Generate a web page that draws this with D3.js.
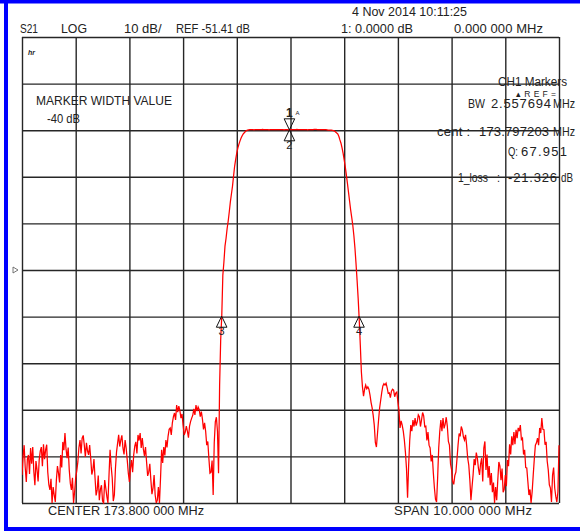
<!DOCTYPE html>
<html>
<head>
<meta charset="utf-8">
<script src="https://cdn.jsdelivr.net/npm/d3@7/dist/d3.min.js"></script>
<style>
  html, body { margin: 0; padding: 0; background: #fff; }
  svg { display: block; }
  text { font-family: "Liberation Sans", Arial, sans-serif; fill: #222; }
</style>
</head>
<body>
<svg id="chart" width="580" height="531"></svg>
<script>
// ---------------- DATA ----------------
// sweep frequencies (MHz)
const sweepMHz = [
168.80,168.82,168.84,168.86,168.88,168.90,168.92,168.94,168.96,168.98,
169.00,169.02,169.04,169.06,169.08,169.10,169.12,169.14,169.16,169.18,
169.20,169.22,169.24,169.26,169.28,169.30,169.32,169.34,169.36,169.38,
169.40,169.42,169.44,169.46,169.48,169.50,169.52,169.54,169.56,169.58,
169.60,169.62,169.64,169.66,169.68,169.70,169.72,169.74,169.76,169.78,
169.80,169.82,169.84,169.86,169.88,169.90,169.92,169.94,169.96,169.98,
170.00,170.02,170.04,170.06,170.08,170.10,170.12,170.14,170.16,170.18,
170.20,170.22,170.24,170.26,170.28,170.30,170.32,170.34,170.36,170.38,
170.40,170.42,170.44,170.46,170.48,170.50,170.52,170.54,170.56,170.58,
170.60,170.62,170.64,170.66,170.68,170.70,170.72,170.74,170.76,170.78,
170.80,170.82,170.84,170.86,170.88,170.90,170.92,170.94,170.96,170.98,
171.00,171.02,171.04,171.06,171.08,171.10,171.12,171.14,171.16,171.18,
171.20,171.22,171.24,171.26,171.28,171.30,171.32,171.34,171.36,171.38,
171.40,171.42,171.44,171.46,171.48,171.50,171.52,171.54,171.56,171.58,
171.60,171.62,171.64,171.66,171.68,171.70,171.72,171.74,171.76,171.78,
171.80,171.82,171.84,171.86,171.88,171.90,171.92,171.94,171.96,171.98,
172.00,172.02,172.04,172.06,172.08,172.10,172.12,172.14,172.16,172.18,
172.20,172.22,172.24,172.26,172.28,172.30,172.32,172.34,172.36,172.38,
172.40,172.42,172.44,172.46,172.48,172.50,172.52,172.54,172.56,172.58,
172.60,172.62,172.64,172.66,172.68,172.70,172.72,172.74,172.76,172.78,
172.80,172.82,172.84,172.86,172.88,172.90,172.92,172.94,172.96,172.98,
173.00,173.02,173.04,173.06,173.08,173.10,173.12,173.14,173.16,173.18,
173.20,173.22,173.24,173.26,173.28,173.30,173.32,173.34,173.36,173.38,
173.40,173.42,173.44,173.46,173.48,173.50,173.52,173.54,173.56,173.58,
173.60,173.62,173.64,173.66,173.68,173.70,173.72,173.74,173.76,173.78,
173.80,173.82,173.84,173.86,173.88,173.90,173.92,173.94,173.96,173.98,
174.00,174.02,174.04,174.06,174.08,174.10,174.12,174.14,174.16,174.18,
174.20,174.22,174.24,174.26,174.28,174.30,174.32,174.34,174.36,174.38,
174.40,174.42,174.44,174.46,174.48,174.50,174.52,174.54,174.56,174.58,
174.60,174.62,174.64,174.66,174.68,174.70,174.72,174.74,174.76,174.78,
174.80,174.82,174.84,174.86,174.88,174.90,174.92,174.94,174.96,174.98,
175.00,175.02,175.04,175.06,175.08,175.10,175.12,175.14,175.16,175.18,
175.20,175.22,175.24,175.26,175.28,175.30,175.32,175.34,175.36,175.38,
175.40,175.42,175.44,175.46,175.48,175.50,175.52,175.54,175.56,175.58,
175.60,175.62,175.64,175.66,175.68,175.70,175.72,175.74,175.76,175.78,
175.80,175.82,175.84,175.86,175.88,175.90,175.92,175.94,175.96,175.98,
176.00,176.02,176.04,176.06,176.08,176.10,176.12,176.14,176.16,176.18,
176.20,176.22,176.24,176.26,176.28,176.30,176.32,176.34,176.36,176.38,
176.40,176.42,176.44,176.46,176.48,176.50,176.52,176.54,176.56,176.58,
176.60,176.62,176.64,176.66,176.68,176.70,176.72,176.74,176.76,176.78,
176.80,176.82,176.84,176.86,176.88,176.90,176.92,176.94,176.96,176.98,
177.00,177.02,177.04,177.06,177.08,177.10,177.12,177.14,177.16,177.18,
177.20,177.22,177.24,177.26,177.28,177.30,177.32,177.34,177.36,177.38,
177.40,177.42,177.44,177.46,177.48,177.50,177.52,177.54,177.56,177.58,
177.60,177.62,177.64,177.66,177.68,177.70,177.72,177.74,177.76,177.78,
177.80,177.82,177.84,177.86,177.88,177.90,177.92,177.94,177.96,177.98,
178.00,178.02,178.04,178.06,178.08,178.10,178.12,178.14,178.16,178.18,
178.20,178.22,178.24,178.26,178.28,178.30,178.32,178.34,178.36,178.38,
178.40,178.42,178.44,178.46,178.48,178.50,178.52,178.54,178.56,178.58,
178.60,178.62,178.64,178.66,178.68,178.70,178.72,178.74,178.76,178.78,
178.80
];
// S21 magnitude (dB)
const s21dB = [
-95.4,-91.5,-89.0,-93.8,-96.9,-92.0,-91.1,-95.2,-89.6,-93.0,
-89.4,-94.6,-97.6,-92.4,-94.3,-96.8,-92.2,-90.3,-89.4,-93.5,
-88.8,-92.0,-90.0,-88.9,-94.8,-97.5,-98.6,-96.2,-101.4,-98.0,
-99.7,-101.2,-96.5,-93.5,-95.0,-97.0,-91.1,-93.8,-88.3,-90.1,
-86.4,-89.8,-91.8,-89.5,-94.3,-97.2,-98.6,-96.0,-101.4,-99.0,
-96.0,-94.5,-92.6,-89.5,-87.9,-90.8,-87.5,-86.9,-89.0,-91.5,
-88.5,-90.2,-91.1,-89.0,-91.8,-95.3,-94.3,-92.0,-96.0,-99.8,
-98.6,-95.5,-100.8,-98.5,-97.6,-101.0,-101.4,-96.5,-98.2,-100.0,
-101.4,-95.5,-90.0,-93.5,-96.0,-101.0,-99.7,-94.0,-90.5,-88.6,
-86.8,-89.3,-87.9,-86.9,-89.6,-91.0,-87.9,-89.6,-92.2,-95.0,
-96.9,-94.0,-92.2,-94.8,-91.1,-89.2,-88.3,-90.8,-86.8,-88.0,
-86.4,-89.6,-87.5,-89.8,-91.3,-89.4,-92.6,-95.6,-94.8,-93.0,
-96.5,-99.5,-98.2,-95.4,-99.7,-101.4,-100.8,-98.0,-101.4,-96.0,
-90.0,-92.8,-89.4,-91.2,-87.9,-89.5,-87.1,-85.6,-85.3,-86.8,
-84.2,-82.9,-82.1,-83.6,-80.4,-81.9,-80.6,-81.6,-83.2,-82.3,
-84.7,-86.8,-86.2,-84.9,-86.0,-87.4,-84.9,-83.9,-83.2,-82.6,
-81.2,-82.5,-80.4,-81.7,-80.8,-81.4,-82.9,-81.8,-83.4,-85.6,
-84.2,-86.0,-89.0,-88.2,-91.8,-95.0,-94.8,-92.3,-99.7,-88.5,
-84.0,-83.0,-86.0,-95.0,-76.1,-66.4,-61.3,-52.5,-49.7,-46.3,
-44.6,-42.5,-40.9,-38.9,-36.8,-35.1,-33.4,-31.2,-29.1,-27.6,
-26.3,-25.2,-24.4,-23.7,-23.1,-22.6,-22.2,-21.95,-21.7,-21.5,
-21.4,-21.35,-21.3,-21.3,-21.3,-21.3,-21.35,-21.3,-21.3,-21.3,
-21.3,-21.3,-21.3,-21.3,-21.25,-21.3,-21.3,-21.3,-21.3,-21.3,
-21.35,-21.3,-21.3,-21.3,-21.3,-21.3,-21.3,-21.3,-21.3,-21.3,
-21.3,-21.3,-21.3,-21.3,-21.35,-21.3,-21.3,-21.3,-21.33,-21.3,
-21.3,-21.3,-21.3,-21.3,-21.3,-21.3,-21.25,-21.3,-21.3,-21.3,
-21.3,-21.3,-21.3,-21.3,-21.3,-21.3,-21.35,-21.3,-21.3,-21.3,
-21.3,-21.3,-21.25,-21.25,-21.25,-21.3,-21.3,-21.3,-21.3,-21.3,
-21.3,-21.3,-21.3,-21.3,-21.35,-21.4,-21.4,-21.4,-21.4,-21.45,
-21.5,-21.6,-21.8,-22.0,-22.2,-22.7,-23.5,-24.2,-25.2,-26.4,
-27.8,-29.3,-31.0,-32.8,-34.7,-36.6,-38.5,-40.1,-41.8,-44.0,
-46.7,-50.0,-53.6,-57.5,-62.1,-67.5,-73.3,-76.5,-78.5,-77.0,
-76.1,-76.9,-76.5,-77.0,-78.2,-79.8,-81.0,-82.6,-84.7,-88.4,
-89.4,-86.5,-83.6,-81.0,-79.3,-77.6,-76.3,-75.8,-76.1,-75.7,
-76.7,-77.9,-77.8,-78.8,-77.4,-77.0,-77.2,-78.6,-77.8,-77.6,
-79.7,-81.5,-85.3,-83.8,-84.7,-86.0,-87.9,-90.5,-94.0,-100.3,
-93.3,-88.0,-84.7,-86.0,-83.6,-85.0,-83.2,-84.8,-84.0,-82.5,
-82.9,-85.0,-83.6,-82.0,-82.7,-85.0,-84.9,-88.0,-86.2,-89.0,
-89.6,-92.5,-91.1,-95.0,-98.2,-100.6,-101.2,-96.0,-89.6,-86.0,
-83.6,-86.0,-83.2,-85.4,-84.5,-83.0,-84.9,-88.2,-89.0,-93.0,
-94.3,-96.8,-97.4,-95.5,-94.8,-92.0,-89.0,-86.5,-87.1,-85.0,
-85.7,-87.2,-87.9,-86.8,-89.0,-91.8,-93.3,-96.5,-100.8,-98.0,
-95.4,-92.0,-93.3,-90.6,-91.8,-94.0,-95.4,-93.0,-91.8,-96.8,
-89.6,-88.2,-94.3,-91.0,-96.0,-93.5,-97.6,-95.0,-99.1,-97.0,
-101.4,-98.0,-100.8,-96.5,-92.6,-93.5,-96.5,-94.0,-99.1,-98.5,
-95.4,-97.8,-92.2,-93.5,-88.8,-91.0,-87.1,-89.0,-86.2,-88.8,
-85.7,-87.5,-85.3,-86.0,-84.7,-87.8,-87.5,-91.0,-90.0,-93.8,
-93.9,-96.8,-99.7,-98.5,-101.4,-99.0,-95.4,-92.0,-89.0,-88.5,
-87.5,-89.0,-85.3,-86.4,-83.2,-85.6,-85.7,-88.9,-88.3,-92.4,
-94.3,-97.5,-98.2,-101.2,-95.4,-93.8,-98.2,-100.0,-101.2,-99.0,
-89.0
];
// grid (1 MHz / div, 10 dB / div, REF -51.41 dB at centre)
const gridMHz = [168.8,169.8,170.8,171.8,172.8,173.8,174.8,175.8,176.8,177.8,178.8];
const gridDB  = [-1.41,-11.41,-21.41,-31.41,-41.41,-51.41,-61.41,-71.41,-81.41,-91.41,-101.41];
const refDB = -51.41;
// markers
const markerIds  = ["1", "2", "3", "4"];
const markerMHz  = [173.78, 173.78, 172.518, 175.076];
const markerDB   = [-21.33, -21.33, -61.33, -61.33];
const markerDir  = ["down", "up", "up", "up"];
// annotation texts
const headerTexts = ["S21", "LOG", "10 dB/", "REF -51.41 dB", "1: 0.0000  dB", "0.000  000  MHz", "4 Nov 2014  10:11:25"];
const markerWidthTexts = ["MARKER WIDTH VALUE", "-40 dB"];
const statTexts = ["CH1 Markers", "\u25B4REF=", "BW", "2.557694", "MHz", "cent  :", "173.797203", "MHz", "Q:", "67.951", "1_loss", ":", "-21.326", "dB"];
const footerTexts = ["CENTER 173.800  000  MHz", "SPAN  10.000  000  MHz"];

// ---------------- LAYOUT ----------------
const svg = d3.select("#chart");
const plot = { left: 22, right: 559, top: 37, bottom: 503 };
const x = d3.scaleLinear().domain([168.8, 178.8]).range([plot.left, plot.right]);
const y = d3.scaleLinear().domain([-101.41, -1.41]).range([plot.bottom, plot.top]);

svg.append("rect").attr("width", 580).attr("height", 531).attr("fill", "#fff");

// grid via axes
const gx = svg.append("g").attr("transform", `translate(0,${plot.bottom})`)
  .call(d3.axisBottom(x).tickValues(gridMHz).tickSize(-(plot.bottom - plot.top)).tickFormat(""));
const gy = svg.append("g").attr("transform", `translate(${plot.left},0)`)
  .call(d3.axisLeft(y).tickValues(gridDB).tickSize(-(plot.right - plot.left)).tickFormat(""));
[gx, gy].forEach(g => {
  g.select(".domain").remove();
  g.selectAll(".tick line").attr("stroke", "#262626").attr("stroke-width", 1.4);
});

// reference level indicator on the left
const ry = y(refDB);
svg.append("path")
  .attr("d", `M13,${ry - 3} L18,${ry} L13,${ry + 3} Z`)
  .attr("fill", "none").attr("stroke", "#555").attr("stroke-width", 0.8);

// trace
svg.append("defs").append("clipPath").attr("id", "clip")
  .append("rect").attr("x", plot.left).attr("y", plot.top - 2)
  .attr("width", plot.right - plot.left + 1).attr("height", plot.bottom - plot.top + 3);
const pts = sweepMHz.map((f, i) => [f, s21dB[i]]);
svg.append("path")
  .datum(pts)
  .attr("clip-path", "url(#clip)")
  .attr("fill", "none")
  .attr("stroke", "#ff0000")
  .attr("stroke-width", 1.25)
  .attr("stroke-linejoin", "miter")
  .attr("d", d3.line().x(d => x(d[0])).y(d => y(d[1])));

// markers
markerIds.forEach((id, i) => {
  const mx = x(markerMHz[i]), my = y(markerDB[i]);
  const dir = markerDir[i];
  const h = 11, w = 5.3;
  const d = dir === "down"
    ? `M${mx},${my} L${mx - w},${my - h} L${mx + w},${my - h} Z`
    : `M${mx},${my} L${mx - w},${my + h} L${mx + w},${my + h} Z`;
  svg.append("path").attr("d", d).attr("fill", "none").attr("stroke", "#111").attr("stroke-width", 1);
  if (dir === "down") {
    svg.append("text").attr("x", mx).attr("y", my - h - 2).attr("text-anchor", "middle")
      .attr("font-size", 12).attr("font-weight", "bold").text(id);
    svg.append("text").attr("x", mx + 6).attr("y", my - h - 4).attr("font-size", 6).text("A");
  } else {
    svg.append("text").attr("x", mx).attr("y", my + h + 8).attr("text-anchor", "middle")
      .attr("font-size", 11).text(id);
  }
});

// ---------------- TEXT ----------------
// place text at x / baseline, fit to the width seen in the reference
function put(t, xx, yy, w, size) {
  const el = svg.append("text").attr("x", xx).attr("y", yy).attr("font-size", size).text(t);
  if (w) {
    const nat = el.node().getComputedTextLength();
    el.attr("textLength", w).attr("lengthAdjust", nat > w ? "spacingAndGlyphs" : "spacing");
  }
  return el;
}
// header
const hdrPos = [[20, 33, 18], [61, 33, 26], [124, 33, null], [176, 33, 74], [341, 33, 72], [454, 33, 89], [352, 16, 115]];
headerTexts.forEach((t, i) => put(t, hdrPos[i][0], hdrPos[i][1], hdrPos[i][2], 13));

// tiny instrument glyph
svg.append("text").attr("x", 28).attr("y", 55).attr("font-size", 7).attr("font-style", "italic").attr("font-weight", "bold").text("hr");

// marker width block
put(markerWidthTexts[0], 36, 105, 136, 13);
put(markerWidthTexts[1], 47, 123, 33, 13);

// statistics block
const statPos = [
  [498, 86, 69, 12.5], [516, 96.5, 40, 8.5],
  [468, 108, 17, 13], [491, 108, 60, 13], [553, 108, 22, 13],
  [437, 136, 33, 13], [479, 136, 70, 13], [553, 136, 22, 13],
  [508, 156, 10, 13], [521, 156, 46, 13],
  [458, 182, 30, 13], [497, 182, 3, 13], [508, 182, 49, 13], [561, 182, 12, 13]
];
statTexts.forEach((t, i) => put(t, statPos[i][0], statPos[i][1], statPos[i][2], statPos[i][3]));

// footer
put(footerTexts[0], 48, 515, 156, 13);
put(footerTexts[1], 394, 515, 138, 13);

// blue frame (top, left, bottom)
svg.append("rect").attr("x", 0).attr("y", 0).attr("width", 580).attr("height", 3.5).attr("fill", "#0000ff");
svg.append("rect").attr("x", 4).attr("y", 0).attr("width", 4).attr("height", 531).attr("fill", "#0000ff");
svg.append("rect").attr("x", 4).attr("y", 527).attr("width", 576).attr("height", 4).attr("fill", "#0000ff");
</script>
</body>
</html>
